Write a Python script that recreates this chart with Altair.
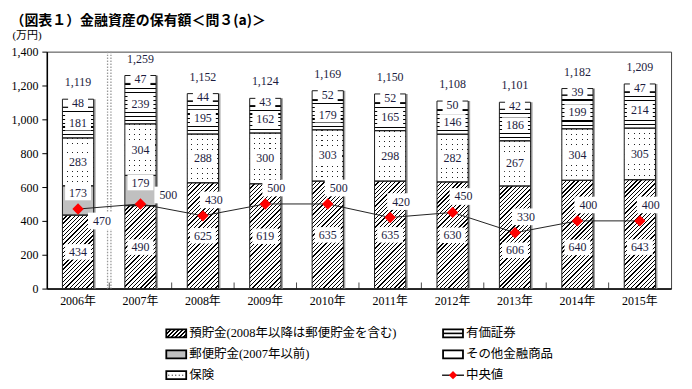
import math
import altair as alt
import pandas as pd

# ---------------- data ----------------
years = ["2006", "2007", "2008", "2009", "2010", "2011", "2012", "2013", "2014", "2015"]
deposits = [434, 490, 625, 619, 635, 635, 630, 606, 640, 643]
postal = [173, 179, None, None, None, None, None, None, None, None]
insurance = [283, 304, 288, 300, 303, 298, 282, 267, 304, 305]
securities = [181, 239, 195, 162, 179, 165, 146, 186, 199, 214]
other = [48, 47, 44, 43, 52, 52, 50, 42, 39, 47]
totals = [1119, 1259, 1152, 1124, 1169, 1150, 1108, 1101, 1182, 1209]
medians = [470, 500, 430, 500, 500, 420, 450, 330, 400, 400]

series_names = ["預貯金", "郵便貯金", "保険", "有価証券", "その他金融商品"]
legend_labels = ["預貯金(2008年以降は郵便貯金を含む)", "郵便貯金(2007年以前)", "保険",
                 "有価証券", "その他金融商品", "中央値"]
legend_keys = ["預貯金", "郵便貯金", "保険", "有価証券", "その他金融商品", "中央値"]

title_text = "（図表１）金融資産の保有額＜問３(a)＞"

# ---------------- layout / style ----------------
PW, PH, YMAX = 627, 238, 1400
PPU = PH / YMAX
STEP = PW / len(years)
BW = STEP * 0.5
GAP_HALF = STEP * 0.25
NUM_FONT = "Liberation Serif, Noto Sans CJK JP"
LABEL_COLOR = "#1c1c40"
BOX = "M-1,-0.6H1V0.6H-1Z"
LBOX = "M-1,-0.4H1V0.4H-1Z"

rows = []
for i, y in enumerate(years):
    start = 0
    for s, arr in zip(series_names, [deposits, postal, insurance, securities, other]):
        v = arr[i]
        if v is None:
            continue
        rows.append(dict(year=y, series=s, value=v, start=start, end=start + v,
                         mid=start + v / 2, median=medians[i]))
        start += v
seg = pd.DataFrame(rows)
tot = pd.DataFrame(dict(year=years, total=totals))
med = pd.DataFrame(dict(year=years, median=medians))


def stops_for(n, frac, on, off):
    st = []
    for k in range(n):
        a, b, c = k / n, (k + frac) / n, (k + 1) / n
        st += [dict(offset=round(a, 5), color=on), dict(offset=round(b, 5), color=on),
               dict(offset=round(b, 5), color=off), dict(offset=round(c, 5), color=off)]
    return st


def diag(w, h, period=3.0, frac=0.3):
    n = max(1, round((w + h) / (math.sqrt(2) * period)))
    k = (w + h) / (w * w + h * h)
    return dict(gradient="linear", x1=0, y1=0, x2=k * w, y2=k * h,
                stops=stops_for(n, frac, "black", "white"))


def hlines(h, period=4.0, frac=0.28, on="black", off="white"):
    n = max(1, round(h / period))
    return dict(gradient="linear", x1=0, y1=0, x2=0, y2=1, stops=stops_for(n, frac, on, off))


def vmask(w, period=5.0):
    n = max(1, round(w / period))
    return dict(gradient="linear", x1=0, y1=0, x2=1, y2=0,
                stops=stops_for(n, 0.8, "white", "rgba(255,255,255,0)"))


xaxis = alt.Axis(labelAngle=0, labelExpr="datum.value + '年'", labelFont=NUM_FONT,
                 labelFontSize=12, labelColor="black", ticks=False, domainColor="black",
                 domainWidth=1.5, labelPadding=7, title=None)
yaxis = alt.Axis(values=list(range(0, 1401, 200)), format=",d", labelFont="Liberation Serif",
                 labelFontSize=12, labelColor="black", tickSize=5, tickColor="black",
                 domainColor="black", domainWidth=1.5, labelPadding=4, grid=False,
                 labelOverlap=False, title="(万円)", titleAngle=0, titleAlign="left",
                 titleBaseline="middle", titleX=-35, titleY=-16, titleFont=NUM_FONT,
                 titleFontSize=11, titleFontWeight="normal", titleColor="black")
yscale = alt.Scale(domain=[0, YMAX], nice=False)


def X(bp=None):
    kw = dict(sort=years, scale=alt.Scale(paddingInner=0.5, paddingOuter=0.25), axis=xaxis)
    if bp is not None:
        kw["bandPosition"] = bp
    return alt.X("year:N", **kw)


def Y(field):
    return alt.Y(f"{field}:Q", scale=yscale, axis=yaxis)


layers = []
# shadow on right side of bars
layers.append(alt.Chart(tot).mark_bar(fill="#a0a0a0", xOffset=2).encode(x=X(), y=Y("total")))
# base fills
layers.append(alt.Chart(seg).mark_bar().encode(
    x=X(), y=Y("start"), y2="end",
    fill=alt.Fill("series:N", scale=alt.Scale(domain=series_names,
                                             range=["white", "#c0c0c0", "white", "white", "white"]),
                  legend=None)))
# pattern fills, one per segment
for r in seg.itertuples():
    h = r.value * PPU
    flt = (alt.datum.series == r.series) & (alt.datum.year == r.year)
    base = alt.Chart(seg).transform_filter(flt)
    enc = dict(x=X(), y=Y("start"), y2="end")
    if r.series == "預貯金":
        layers.append(base.mark_bar(fill=diag(BW, h)).encode(**enc))
    elif r.series == "保険":
        layers.append(base.mark_bar(fill=hlines(h, 5.0, 0.2, "#222", "rgba(0,0,0,0)")).encode(**enc))
        layers.append(base.mark_bar(fill=vmask(BW)).encode(**enc))
    elif r.series == "有価証券":
        layers.append(base.mark_bar(fill=hlines(h)).encode(**enc))
# outlines
layers.append(alt.Chart(seg).mark_bar(fillOpacity=0, stroke="#1a1a1a", strokeWidth=1).encode(
    x=X(), y=Y("start"), y2="end"))
# separator (double dotted line after 2006)
sep = pd.DataFrame(dict(year=[years[0]]))
for off in (GAP_HALF - 1.7, GAP_HALF + 1.7):
    layers.append(alt.Chart(sep).mark_rule(color="#999999", strokeWidth=1.3, strokeDash=[1.5, 1.5],
                                           xOffset=off).encode(x=X(1)))
# inward ticks between categories
tk = pd.DataFrame(dict(year=years[:-1]))
layers.append(alt.Chart(tk).mark_tick(orient="vertical", size=6, thickness=1, color="black",
                                      xOffset=GAP_HALF, yOffset=-3).encode(
    x=X(1), y=alt.Y(datum=0, scale=yscale, axis=yaxis)))

# segment labels (deposit labels that would meet the median marker are moved down)
near = "datum.series == '預貯金' && abs(datum.mid - datum.median) < 90"
size_cond = alt.condition("datum.value < 100", alt.value(400), alt.value(676))
for cond, yoff in [(f"datum.series != '郵便貯金' && !({near})", 0),
                   ("datum.series == '郵便貯金'", -8),
                   (near, 13)]:
    b = alt.Chart(seg).transform_filter(cond)
    layers.append(b.mark_point(shape=BOX, filled=True, color="white", opacity=1, strokeWidth=0,
                               yOffset=yoff).encode(x=X(), y=Y("mid"), size=size_cond))
    layers.append(b.mark_text(font="Liberation Serif", fontSize=12, color=LABEL_COLOR,
                              baseline="middle", yOffset=yoff).encode(x=X(), y=Y("mid"),
                                                                      text="value:Q"))
# totals
layers.append(alt.Chart(tot).mark_text(font="Liberation Serif", fontSize=12, color=LABEL_COLOR,
                                       baseline="middle", dy=-17).encode(
    x=X(), y=Y("total"), text=alt.Text("total:Q", format=",")))
# median line
layers.append(alt.Chart(med).mark_line(color="#222222", strokeWidth=1).encode(x=X(), y=Y("median")))
layers.append(alt.Chart(med).mark_point(shape="diamond", filled=True, color="#ff0000", opacity=1,
                                        size=130).encode(x=X(), y=Y("median")))
for cond, dx, dy in [(alt.datum.year == "2006", 24, 12), (alt.datum.year == "2007", 28, -9),
                     ((alt.datum.year != "2006") & (alt.datum.year != "2007"), 11, -16)]:
    b = alt.Chart(med).transform_filter(cond)
    layers.append(b.mark_point(shape=BOX, filled=True, color="white", opacity=1, strokeWidth=0,
                               size=784, xOffset=dx, yOffset=dy).encode(x=X(), y=Y("median")))
    layers.append(b.mark_text(font="Liberation Serif", fontSize=12, color=LABEL_COLOR,
                              baseline="middle", xOffset=dx, yOffset=dy).encode(
        x=X(), y=Y("median"), text="median:Q"))

main = alt.layer(*layers).properties(width=PW, height=PH,
                                     view=alt.ViewBackground(stroke="#444444", strokeWidth=1))

# ---------------- legend ----------------
leg = pd.DataFrame(dict(label=legend_labels, key=legend_keys,
                        col=[i // 3 for i in range(len(legend_keys))],
                        row=[i % 3 for i in range(len(legend_keys))]))
lx = alt.X("col:O", scale=alt.Scale(type="point", range=[130, 408], padding=0), axis=None)
ly = alt.Y("row:O", scale=alt.Scale(type="point", range=[6, 48], padding=0), axis=None)
legend_fill = {"預貯金": diag(20, 8, 3.0, 0.38), "郵便貯金": "#c0c0c0", "保険": "white",
               "有価証券": "white", "その他金融商品": "white"}
ll = []
for key, fill in legend_fill.items():
    ll.append(alt.Chart(leg).transform_filter(alt.datum.key == key).mark_point(
        shape=LBOX, size=400, filled=False, fill=fill, fillOpacity=1, stroke="black",
        strokeWidth=1.8, opacity=1).encode(x=lx, y=ly))
ll.append(alt.Chart(leg).transform_filter(alt.datum.key == "保険").mark_point(
    shape="M-0.8,0H0.8", size=400, filled=False, stroke="black", strokeWidth=1,
    strokeDash=[1, 2.5], opacity=1).encode(x=lx, y=ly))
ll.append(alt.Chart(leg).transform_filter(alt.datum.key == "有価証券").mark_point(
    shape="M-1,0H1", size=400, filled=False, stroke="black", strokeWidth=1.6,
    opacity=1).encode(x=lx, y=ly))
ll.append(alt.Chart(leg).transform_filter(alt.datum.key == "中央値").mark_point(
    shape="M-1,0H1", size=484, filled=False, stroke="black", strokeWidth=1.3,
    opacity=1).encode(x=lx, y=ly))
ll.append(alt.Chart(leg).transform_filter(alt.datum.key == "中央値").mark_point(
    shape="diamond", size=70, filled=True, color="#ff0000", opacity=1).encode(x=lx, y=ly))
ll.append(alt.Chart(leg).mark_text(align="left", baseline="middle", dx=13, font=NUM_FONT,
                                   fontSize=12.5, color="black").encode(x=lx, y=ly, text="label:N"))
legend = alt.layer(*ll).properties(width=640, height=52,
                                   view=alt.ViewBackground(strokeOpacity=0))

chart = alt.vconcat(main, legend, spacing=18).properties(
    padding={"top": 5, "left": 2, "right": 0, "bottom": 0},
    title=alt.Title(title_text, anchor="start", font="Noto Sans CJK JP", fontSize=14,
                    fontWeight="bold", color="black", offset=1),
)

chart.save("out.html", embed_options={"renderer": "svg", "actions": False})
